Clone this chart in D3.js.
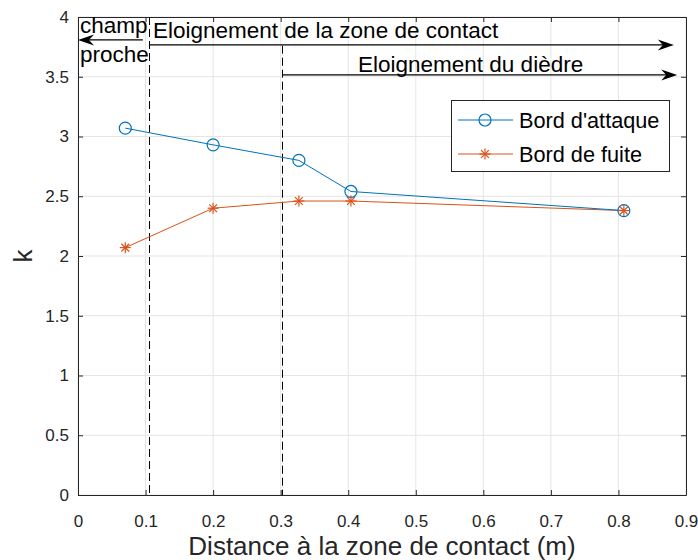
<!DOCTYPE html>
<html><head><meta charset="utf-8">
<script src="https://cdn.jsdelivr.net/npm/d3@7"></script>
<style>body{margin:0;background:#fff}svg{display:block}text{font-family:"Liberation Sans",Arial,sans-serif}</style>
</head><body><svg id="c" width="698" height="560"></svg>
<script>
const xTicks=[0,0.1,0.2,0.3,0.4,0.5,0.6,0.7,0.8,0.9];
const yTicks=[0,0.5,1,1.5,2,2.5,3,3.5,4];
const xVals=[0.07,0.2,0.327,0.404,0.808];
const attaque=[3.07,2.93,2.80,2.54,2.38];
const fuite=[2.07,2.40,2.46,2.46,2.38];
const seriesNames=["Bord d'attaque","Bord de fuite"];
const dashedX=[0.105,0.302];
const annotations=[
 {text:"champ",x:0.003,y:3.866},
 {text:"proche",x:0.003,y:3.626},
 {text:"Eloignement de la zone de contact",x:0.111,y:3.822},
 {text:"Eloignement du dièdre",x:0.4145,y:3.54}
];
const arrows=[
 {x1:0.096,x2:0.0,y:3.808},
 {x1:0.105,x2:0.882,y:3.766},
 {x1:0.302,x2:0.887,y:3.515}
];

const svg=d3.select("#c");
const L=78,R=686,T=17,B=495;
const x=d3.scaleLinear().domain([0,0.9]).range([L,R]);
const y=d3.scaleLinear().domain([0,4]).range([B,T]);
const axCol="#262626";

// grid
const g=svg.append("g");
g.selectAll(".gx").data(xTicks).enter().append("line").attr("x1",d=>x(d)).attr("x2",d=>x(d)).attr("y1",T).attr("y2",B).attr("stroke","#e5e5e5").attr("stroke-width",1);
g.selectAll(".gy").data(yTicks).enter().append("line").attr("y1",d=>y(d)).attr("y2",d=>y(d)).attr("x1",L).attr("x2",R).attr("stroke","#e5e5e5").attr("stroke-width",1);

// axes
const xa=svg.append("g").attr("transform",`translate(0,${B})`).call(d3.axisBottom(x).tickValues(xTicks).tickFormat(d3.format("")).tickSizeInner(-5).tickSizeOuter(0).tickPadding(20));
const xt=svg.append("g").attr("transform",`translate(0,${T})`).call(d3.axisTop(x).tickValues(xTicks).tickFormat("").tickSizeInner(-5).tickSizeOuter(0));
const ya=svg.append("g").attr("transform",`translate(${L},0)`).call(d3.axisLeft(y).tickValues(yTicks).tickFormat(d3.format("")).tickSizeInner(-5).tickSizeOuter(0).tickPadding(9));
const yr=svg.append("g").attr("transform",`translate(${R},0)`).call(d3.axisRight(y).tickValues(yTicks).tickFormat("").tickSizeInner(-5).tickSizeOuter(0));
[xa,xt,ya,yr].forEach(a=>{a.selectAll("path").attr("stroke",axCol);a.selectAll("line").attr("stroke",axCol);a.selectAll("text").attr("fill",axCol).style("font-size","17px").style("font-family","'Liberation Sans',Arial,sans-serif");});

// dashed lines
const snap=v=>Math.round(v)+0.5;
svg.append("line").attr("x1",snap(x(dashedX[0]))).attr("x2",snap(x(dashedX[0]))).attr("y1",y(4)).attr("y2",y(0)).attr("stroke","#000").attr("stroke-width",1).attr("stroke-dasharray","8,4");
svg.append("line").attr("x1",snap(x(dashedX[1]))).attr("x2",snap(x(dashedX[1]))).attr("y1",y(3.76)).attr("y2",y(0)).attr("stroke","#000").attr("stroke-width",1).attr("stroke-dasharray","8,4");

// arrows
arrows.forEach(a=>{
  const x1=x(a.x1),x2=x(a.x2),yy=y(a.y),dir=Math.sign(x2-x1);
  svg.append("line").attr("x1",x1).attr("x2",x2-dir*6).attr("y1",yy).attr("y2",yy).attr("stroke","#000").attr("stroke-width",1.2);
  svg.append("path").attr("d",`M${x2},${yy} L${x2-dir*16},${yy-5.5} L${x2-dir*11},${yy} L${x2-dir*16},${yy+5.5} Z`).attr("fill","#000");
});

// annotations
annotations.forEach(a=>{
  svg.append("text").attr("x",x(a.x)).attr("y",y(a.y)).text(a.text).attr("fill","#000").style("font-size","22.5px");
});

// series
const blue="#0072BD",red="#D95319";
const line=d3.line().x((d,i)=>x(xVals[i])).y(d=>y(d));
svg.append("path").datum(fuite).attr("d",line).attr("fill","none").attr("stroke",red).attr("stroke-width",1);
svg.append("path").datum(attaque).attr("d",line).attr("fill","none").attr("stroke",blue).attr("stroke-width",1);

function star(sel,cx,cy,r,col){
  const gg=sel.append("g").attr("stroke",col).attr("stroke-width",1.2);
  [0,45,90,135].forEach(a=>{const rad=a*Math.PI/180;gg.append("line").attr("x1",cx-r*Math.cos(rad)).attr("y1",cy-r*Math.sin(rad)).attr("x2",cx+r*Math.cos(rad)).attr("y2",cy+r*Math.sin(rad));});
}
svg.selectAll(".mb").data(attaque).enter().append("circle").attr("cx",(d,i)=>x(xVals[i])).attr("cy",d=>y(d)).attr("r",6).attr("fill","none").attr("stroke",blue).attr("stroke-width",1.2);
fuite.forEach((d,i)=>star(svg,x(xVals[i]),y(d),5.5,red));

// legend
const lg=svg.append("g");
lg.append("rect").attr("x",451.5).attr("y",100.5).attr("width",218).attr("height",71).attr("fill","#fff").attr("stroke",axCol).attr("stroke-width",1);
const rows=[{c:blue,t:seriesNames[0],y:120},{c:red,t:seriesNames[1],y:154}];
rows.forEach((r,i)=>{
  lg.append("line").attr("x1",458).attr("x2",513).attr("y1",r.y).attr("y2",r.y).attr("stroke",r.c).attr("stroke-width",1);
  if(i===0) lg.append("circle").attr("cx",485).attr("cy",r.y).attr("r",6).attr("fill","none").attr("stroke",r.c).attr("stroke-width",1.2);
  else star(lg,485,r.y,5.5,r.c);
  lg.append("text").attr("x",519).attr("y",r.y+7.5).text(r.t).attr("fill","#000").style("font-size","21.7px");
});

// axis labels
svg.append("text").attr("x",382).attr("y",555).attr("text-anchor","middle").text("Distance à la zone de contact (m)").attr("fill",axCol).style("font-size","26px");
svg.append("text").attr("transform",`translate(32,256) rotate(-90)`).attr("text-anchor","middle").text("k").attr("fill",axCol).style("font-size","26px");
</script></body></html>
